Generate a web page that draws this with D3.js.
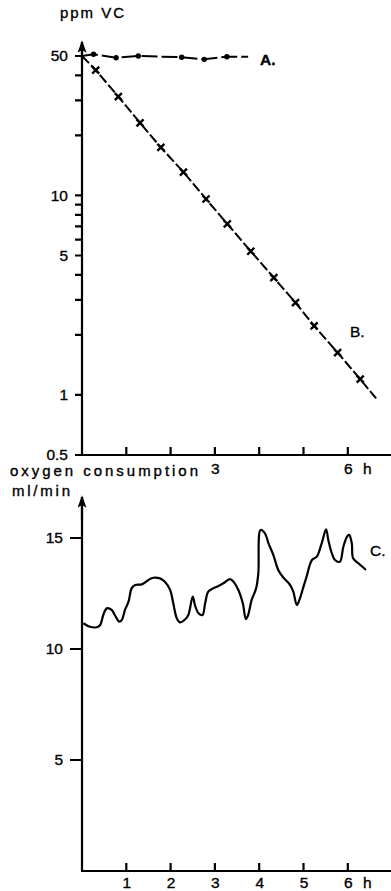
<!DOCTYPE html>
<html>
<head>
<meta charset="utf-8">
<script src="https://cdn.jsdelivr.net/npm/d3@7"></script>
<style>
  body { margin: 0; background: #fff; color: #000; }
  svg { display: block; color: #000; }
  text { font-family: "Liberation Sans", Arial, sans-serif; fill: #000; stroke: #000; stroke-width: 0.35px; }
</style>
</head>
<body>
<svg id="chart" width="391" height="891"></svg>
<script>
// series A: ppm VC, constant (dots)
const hoursA = [0, 0.26, 0.77, 1.27, 2.25, 2.76, 3.27, 3.75];
const ppmA = [50, 51.0, 49.0, 50.0, 49.3, 48.1, 49.6, 49.6];

// series B: ppm VC, decreasing (crosses)
const hoursB = [0, 0.31, 0.82, 1.31, 1.78, 2.29, 2.80, 3.28, 3.81, 4.33, 4.82, 5.24, 5.77, 6.28, 6.64];
const ppmB = [50, 42.5, 31.3, 23.1, 17.4, 13.1, 9.6, 7.2, 5.25, 3.87, 2.90, 2.22, 1.63, 1.20, 0.96];

// series C: oxygen consumption ml/min
const hoursC = [0.03, 0.18, 0.33, 0.41, 0.48, 0.56, 0.67, 0.74, 0.84, 0.90, 0.97, 1.05, 1.12, 1.20, 1.35, 1.50, 1.61, 1.76, 1.87, 1.99,
  2.06, 2.14, 2.21, 2.33, 2.40, 2.50, 2.55, 2.63, 2.72, 2.78, 2.85, 2.96, 3.08, 3.19, 3.34, 3.42, 3.53, 3.63, 3.70, 3.75,
  3.83, 3.93, 3.98, 4.03, 4.13, 4.21, 4.32, 4.43, 4.54, 4.70, 4.77, 4.85, 4.92, 5.00, 5.07, 5.19, 5.30, 5.41, 5.51, 5.56,
  5.64, 5.71, 5.82, 5.90, 5.98, 6.03, 6.09, 6.12, 6.24, 6.31, 6.41];
const o2C = [11.16, 11.00, 10.98, 11.08, 11.53, 11.83, 11.76, 11.53, 11.23, 11.31, 11.76, 12.13, 12.73, 12.88, 12.91, 13.11, 13.21, 13.18, 13.03, 12.66,
  12.06, 11.38, 11.20, 11.34, 11.53, 12.36, 11.98, 11.61, 11.53, 12.06, 12.58, 12.73, 12.84, 12.96, 13.15, 13.03, 12.66, 12.06, 11.35, 11.53,
  12.21, 12.73, 13.41, 15.36, 15.21, 14.76, 14.23, 13.56, 13.23, 12.88, 12.58, 11.98, 12.28, 12.81, 13.26, 14.01, 14.16, 14.76, 15.39, 14.91,
  14.31, 14.01, 13.93, 14.61, 15.05, 15.14, 14.76, 14.09, 13.86, 13.74, 13.56];

// tick labels
const ppmTicks = [0.5, 1, 2, 3, 4, 5, 6, 7, 8, 9, 10, 20, 30, 40, 50];
const ppmLabels = [0.5, 1, 5, 10, 50];
const hourTicks = [1, 2, 3, 4, 5, 6];
const topHourLabels = [3, 6];
const o2Ticks = [5, 10, 15];

const svg = d3.select("#chart");

const x = d3.scaleLinear().domain([0, 7]).range([82, 392.1]);
const yTop = d3.scaleLog().domain([0.5, 50]).range([455, 56]);
const yBot = d3.scaleLinear().domain([0, 15]).range([871, 538]);

// arrow head, pointing up
svg.append("defs").append("marker")
  .attr("id", "arrow")
  .attr("viewBox", "0 0 10 14")
  .attr("refX", 5).attr("refY", 2)
  .attr("markerWidth", 9).attr("markerHeight", 13)
  .attr("markerUnits", "userSpaceOnUse")
  .attr("orient", "0")
  .append("path").attr("d", "M5,0 L10,14 L5,11 L0,14 Z").attr("fill", "#000");

function styleAxis(g) {
  g.select(".domain").remove();
  g.selectAll("text").style("font-size", "15.5px");
}

// tick marks drawn with the axis lines in one path, built from the scales
function yTickPath(scale, values, len) {
  return values.map(d => " M" + (82 - len).toFixed(1) + " " + scale(d).toFixed(1) + " L82 " + scale(d).toFixed(1)).join("");
}
function xTickPath(y0) {
  return hourTicks.map(d => " M" + x(d).toFixed(1) + " " + y0 + " L" + x(d).toFixed(1) + " " + (y0 - 8)).join("");
}

// ---------- top chart ----------
const gTop = svg.append("g");

gTop.append("path")
  .attr("d", "M82 455 L82 42 M76 455 L391 455" + yTickPath(yTop, ppmTicks, 7) + xTickPath(455))
  .attr("fill", "none").attr("stroke", "#000").attr("stroke-width", 2.2);
gTop.append("line")
  .attr("x1", 82).attr("x2", 82).attr("y1", 60).attr("y2", 42)
  .attr("stroke", "#000").attr("stroke-width", 2.2)
  .attr("marker-end", "url(#arrow)");

const yTopAxis = gTop.append("g")
  .attr("transform", "translate(82,0)")
  .call(d3.axisLeft(yTop).tickValues(ppmLabels).tickSize(0).tickPadding(14)
    .tickFormat(d => String(d)));
styleAxis(yTopAxis);

const xTopAxis = gTop.append("g")
  .attr("transform", "translate(0,455)")
  .call(d3.axisBottom(x).tickValues(topHourLabels).tickSize(0).tickPadding(8)
    .tickFormat(d3.format("d")));
styleAxis(xTopAxis);
gTop.append("text").attr("x", 363).attr("y", 474).style("font-size", "15.5px").text("h");

gTop.append("text").attr("x", 60).attr("y", 18).style("font-size", "15px")
  .attr("textLength", 64).attr("lengthAdjust", "spacing").text("ppm VC");

const lineA = d3.line().x((d, i) => x(hoursA[i])).y(d => yTop(d));
gTop.append("path").datum(ppmA)
  .attr("d", lineA).attr("fill", "none").attr("stroke", "#000")
  .attr("stroke-width", 2).attr("stroke-dasharray", "16,4");
gTop.selectAll(".dotA").data(ppmA.slice(1, -1)).enter().append("circle")
  .attr("class", "dotA")
  .attr("cx", (d, i) => x(hoursA[i + 1])).attr("cy", d => yTop(d))
  .attr("r", 2.7).attr("fill", "#000");
gTop.append("text").attr("x", 260).attr("y", 65).style("font-size", "15.5px").style("font-weight", "bold").text("A.");

const lineB = d3.line().x((d, i) => x(hoursB[i])).y(d => yTop(d));
gTop.append("path").datum(ppmB)
  .attr("d", lineB).attr("fill", "none").attr("stroke", "#000")
  .attr("stroke-width", 2).attr("stroke-dasharray", "10,3");
gTop.selectAll(".crossB").data(ppmB.slice(1, -1)).enter().append("path")
  .attr("class", "crossB")
  .attr("d", "M-3.5,-3.5L3.5,3.5M-3.5,3.5L3.5,-3.5")
  .attr("transform", (d, i) => `translate(${x(hoursB[i + 1])},${yTop(d)})`)
  .attr("fill", "none").attr("stroke", "#000").attr("stroke-width", 2.4);
gTop.append("text").attr("x", 350).attr("y", 337).style("font-size", "15.5px").text("B.");

// ---------- bottom chart ----------
const gBot = svg.append("g");

gBot.append("path")
  .attr("d", "M82 871 L82 497 M81 871 L391 871" + yTickPath(yBot, o2Ticks, 12) + xTickPath(871))
  .attr("fill", "none").attr("stroke", "#000").attr("stroke-width", 2.2);
gBot.append("line")
  .attr("x1", 82).attr("x2", 82).attr("y1", 520).attr("y2", 497)
  .attr("stroke", "#000").attr("stroke-width", 2.2)
  .attr("marker-end", "url(#arrow)");

const yBotAxis = gBot.append("g")
  .attr("transform", "translate(82,0)")
  .call(d3.axisLeft(yBot).tickValues(o2Ticks).tickSize(0).tickPadding(19).tickFormat(d3.format("d")));
styleAxis(yBotAxis);

const xBotAxis = gBot.append("g")
  .attr("transform", "translate(0,871)")
  .call(d3.axisBottom(x).tickValues(hourTicks).tickSize(0).tickPadding(6)
    .tickFormat(d3.format("d")));
styleAxis(xBotAxis);
xBotAxis.selectAll("text").attr("dy", null).attr("y", 17);
gBot.append("text").attr("x", 363).attr("y", 888).style("font-size", "15.5px").text("h");

gBot.append("text").attr("x", 10).attr("y", 476).style("font-size", "15px")
  .attr("textLength", 188).attr("lengthAdjust", "spacing").text("oxygen consumption");
gBot.append("text").attr("x", 12).attr("y", 496).style("font-size", "15px")
  .attr("textLength", 58).attr("lengthAdjust", "spacing").text("ml/min");

const lineC = d3.line().x((d, i) => x(hoursC[i])).y(d => yBot(d)).curve(d3.curveCatmullRom);
gBot.append("path").datum(o2C)
  .attr("d", lineC).attr("fill", "none").attr("stroke", "#000")
  .attr("stroke-width", 2.2).attr("stroke-linejoin", "round");
gBot.append("text").attr("x", 370).attr("y", 556).style("font-size", "15.5px").text("C.");
</script>
</body>
</html>
